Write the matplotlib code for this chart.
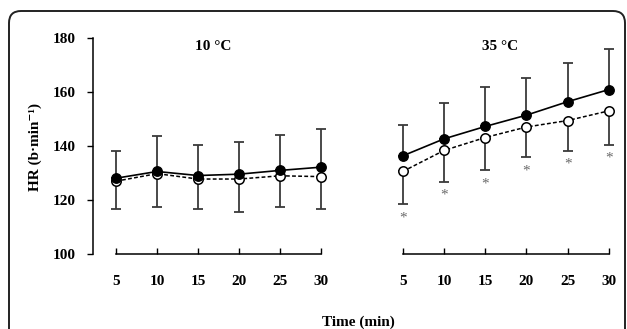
import numpy as np
import matplotlib.pyplot as plt
from matplotlib.patches import FancyBboxPatch

# --- data (HR, b/min) ---
time_min = [5, 10, 15, 20, 25, 30]
x_ticks = [5, 10, 15, 20, 25, 30]
y_ticks = [100, 120, 140, 160, 180]

# 10 C panel
cold_filled = [128.1, 130.6, 129.1, 129.6, 131.0, 132.2]
cold_filled_sd = [10.2, 13.0, 11.4, 11.9, 13.3, 14.3]
cold_open = [127.0, 129.8, 127.8, 127.8, 129.0, 128.7]
cold_open_sd = [10.2, 12.4, 11.0, 12.2, 11.6, 11.9]

# 35 C panel
hot_filled = [136.4, 142.7, 147.3, 151.5, 156.5, 161.0]
hot_filled_sd = [11.5, 13.2, 14.6, 13.7, 14.2, 14.9]
hot_open = [130.6, 138.4, 143.2, 147.1, 149.5, 153.1]
hot_open_sd = [12.1, 11.6, 12.1, 11.3, 11.2, 12.6]
hot_signif = [True, True, True, True, True, True]

panel_titles = ['10 \u00b0C', '35 \u00b0C']

plt.rcParams['font.family'] = ['Liberation Serif', 'DejaVu Serif']
plt.rcParams['font.weight'] = 'bold'

fig = plt.figure(figsize=(6.27, 3.29), dpi=100)
fig.patch.set_facecolor('white')

# rounded frame around the figure (runs off the bottom edge)
frame = FancyBboxPatch((0.09, -0.3), 6.16, 3.48,
                       boxstyle='round,pad=0,rounding_size=0.12',
                       transform=fig.dpi_scale_trans, fill=False,
                       edgecolor='#222222', linewidth=1.4, clip_on=False)
fig.patches.append(frame)

ax_l = fig.add_axes([0.1488, 0.228, 0.3893, 0.6556])
ax_r = fig.add_axes([0.6292, 0.228, 0.3552, 0.6556])

err_col = '#3a3a3a'
fs = 11


def draw_panel(ax, filled, filled_sd, opened, opened_sd):
    filled = np.array(filled)
    opened = np.array(opened)
    # upper bar belongs to filled series, lower bar to open series
    ax.errorbar(time_min, filled, yerr=[np.zeros(len(filled)), filled_sd],
                fmt='none', ecolor=err_col, elinewidth=1.3, capsize=3.5,
                capthick=1.3, zorder=2)
    ax.errorbar(time_min, opened, yerr=[opened_sd, np.zeros(len(opened))],
                fmt='none', ecolor=err_col, elinewidth=1.3, capsize=3.5,
                capthick=1.3, zorder=2)
    ax.plot(time_min, opened, linestyle=(0, (2.5, 1.5)), color='black',
            linewidth=1.1, marker='o', markersize=6.8, markerfacecolor='white',
            markeredgecolor='black', markeredgewidth=1.1, zorder=3)
    ax.plot(time_min, filled, linestyle='-', color='black', linewidth=1.2,
            marker='o', markersize=6.8, markerfacecolor='black',
            markeredgecolor='black', zorder=4)


draw_panel(ax_l, cold_filled, cold_filled_sd, cold_open, cold_open_sd)
draw_panel(ax_r, hot_filled, hot_filled_sd, hot_open, hot_open_sd)

# significance stars under the lower bars
for t, m, sd, s in zip(time_min, hot_open, hot_open_sd, hot_signif):
    if s:
        ax_r.annotate('*', (t, m - sd), xytext=(0, -5), textcoords='offset points',
                      ha='center', va='top', fontsize=11, color='#6a6a6a',
                      fontweight='normal')

for ax, title in zip([ax_l, ax_r], panel_titles):
    ax.set_ylim(100, 180)
    ax.set_xticks(x_ticks)
    ax.set_xticklabels([str(v) for v in x_ticks])
    ax.spines['top'].set_visible(False)
    ax.spines['right'].set_visible(False)
    ax.spines['bottom'].set_bounds(5, 30)
    ax.spines['bottom'].set_linewidth(1.1)
    ax.tick_params(axis='x', direction='in', length=4, width=1.0, pad=15,
                   labelsize=fs)
    ax.set_facecolor('none')
    ax.text(16.8, 176.8, title, ha='center', va='center', fontsize=fs,
            fontweight='bold')

ax_l.set_xlim(2.23, 32)
ax_r.set_xlim(4, 31)

ax_l.set_yticks(y_ticks)
ax_l.spines['left'].set_linewidth(1.1)
ax_l.tick_params(axis='y', direction='out', length=4, width=1.0, pad=9,
                 labelsize=fs)
ax_r.spines['left'].set_visible(False)
ax_r.set_yticks([])

fig.text(35 / 627, 0.5 + (329 / 2 - 147) / 329, 'HR (b\u00b7min\u207b\u00b9)',
         rotation=90, ha='center', va='center', fontsize=fs, fontweight='bold')
fig.text(358 / 627, (329 - 322) / 329, 'Time (min)', ha='center', va='center',
         fontsize=fs, fontweight='bold')

fig.savefig('out.png', dpi=100)
